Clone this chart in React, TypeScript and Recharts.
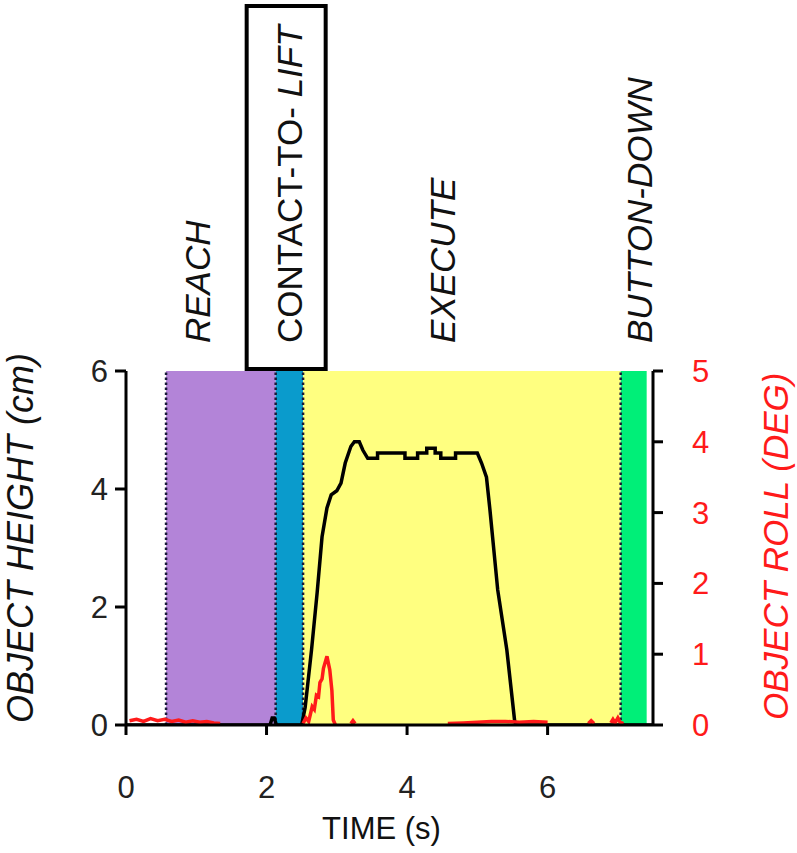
import React from "react";
import {
  ComposedChart,
  Line,
  XAxis,
  YAxis,
  ReferenceArea,
  ReferenceLine,
} from "recharts";

// axis ticks
const timeTicks = [0, 2, 4, 6];
const heightTicks = [0, 2, 4, 6];
const rollTicks = [0, 1, 2, 3, 4, 5];

// task phases (seconds)
const phaseNames = ["REACH", "CONTACT-TO- LIFT", "EXECUTE", "BUTTON-DOWN"];
const phaseStart = [0.57, 2.13, 2.52, 7.04];
const phaseEnd = [2.13, 2.52, 7.04, 7.41];

// object height trace (cm)
const heightTime = [
  0, 2.05, 2.08, 2.11, 2.14, 2.5, 2.55, 2.64, 2.72, 2.79, 2.86, 2.92, 3.0, 3.06, 3.12, 3.2,
  3.25, 3.32, 3.37, 3.44, 3.58, 3.58, 3.97, 3.97, 4.15, 4.15, 4.28, 4.28, 4.4, 4.4, 4.48,
  4.48, 4.69, 4.69, 5.0, 5.06, 5.13, 5.18, 5.29, 5.42, 5.53, 5.55, 7.5,
];
const heightCm = [
  0, 0, 0.12, 0.12, 0, 0, 0.3, 1.27, 2.24, 3.19, 3.68, 3.9, 3.97, 4.1, 4.44, 4.72,
  4.8, 4.8, 4.66, 4.52, 4.52, 4.61, 4.61, 4.52, 4.52, 4.61, 4.61, 4.69, 4.69, 4.61, 4.61,
  4.52, 4.52, 4.61, 4.61, 4.44, 4.2, 3.64, 2.29, 1.27, 0.08, 0, 0,
];

// object roll trace (deg), null = gap
const rollTime = [
  0.05, 0.15, 0.25, 0.35, 0.45, 0.55, 0.65, 0.75, 0.85, 0.95, 1.05, 1.15, 1.25, 1.34, 1.4,
  2.52, 2.56, 2.6, 2.65, 2.68, 2.71, 2.74, 2.76, 2.79, 2.81, 2.86, 2.9, 2.93, 2.95, 2.98, 3.0,
  3.2, 3.23, 3.26, 3.3,
  4.58, 4.8, 5.0, 5.2, 5.4, 5.6, 5.8, 6.0, 6.05,
  6.58, 6.62, 6.66, 6.7,
  6.9, 6.93, 6.96, 7.0, 7.03, 7.08,
];
const rollDeg = [
  0.06, 0.08, 0.05, 0.09, 0.06, 0.08, 0.05, 0.07, 0.04, 0.06, 0.04, 0.05, 0.03, 0.02, null,
  0.02, 0.1, 0.05, 0.26, 0.22, 0.42, 0.4, 0.6, 0.65, 0.8, 0.97, 0.78, 0.49, 0.07, 0, null,
  0.02, 0.06, 0.02, null,
  0.02, 0.03, 0.04, 0.05, 0.05, 0.04, 0.05, 0.04, null,
  0.02, 0.06, 0.02, null,
  0.03, 0.08, 0.03, 0.1, 0.04, 0.02,
];

const heightData = heightTime.map((t, i) => ({ t, h: heightCm[i] }));
const rollData = rollTime.map((t, i) => ({ t, r: rollDeg[i] }));

const W = 797;
const H = 853;
const LEFT_W = 126;
const RIGHT_W = 144;
const BOTTOM_H = 128;
const TOP = 371;
const FONT = '"Liberation Sans", Arial, Helvetica, sans-serif';
const RED = "#ff1a1a";

const phaseFill = ["#b384d8", "#0a9bcc", "#ffff80", "#00ef78"];
const labelShift = [44, 26, 152, 31];

const phaseLabel = (i: number) => (props: any) => {
  const vb = props.viewBox;
  const bx = vb.x + labelShift[i];
  const by = vb.y - 28;
  return (
    <g>
      {i === 1 && (
        <rect
          x={vb.x - 29}
          y={vb.y - 365}
          width={79}
          height={363}
          fill="#fff"
          stroke="#000"
          strokeWidth={4}
        />
      )}
      <text
        x={bx}
        y={by}
        transform={`rotate(-90 ${bx} ${by})`}
        fontSize={35}
        fontFamily={FONT}
        fill="#111"
        fontStyle={i === 1 ? "normal" : "italic"}
      >
        {i === 1 ? (
          <>
            <tspan>CONTACT-TO-</tspan>
            <tspan fontStyle="italic"> LIFT</tspan>
          </>
        ) : (
          phaseNames[i]
        )}
      </text>
    </g>
  );
};

const leftTitle = () => {
  const x = 33;
  const y = 723;
  return (
    <text x={x} y={y} transform={`rotate(-90 ${x} ${y})`} fontSize={36} fontStyle="italic" fontFamily={FONT} fill="#111">
      OBJECT HEIGHT (cm)
    </text>
  );
};

const rightTitle = () => {
  const x = 788;
  const y = 720;
  return (
    <text x={x} y={y} transform={`rotate(-90 ${x} ${y})`} fontSize={35} fontStyle="italic" fontFamily={FONT} fill={RED}>
      OBJECT ROLL (DEG)
    </text>
  );
};

const bottomTitle = () => (
  <text x={(LEFT_W + W - RIGHT_W) / 2 - 8} y={839} textAnchor="middle" fontSize={31} fontFamily={FONT} fill="#111">
    TIME (s)
  </text>
);

export default function App() {
  return (
    <div style={{ position: "absolute", left: 0, top: 0, width: W, height: H, background: "#fff" }}>
      <ComposedChart width={W} height={H} margin={{ top: TOP, right: 0, bottom: 0, left: 0 }}>
        <XAxis
          xAxisId="t"
          dataKey="t"
          type="number"
          domain={[0, 7.5]}
          ticks={timeTicks}
          allowDataOverflow
          height={BOTTOM_H}
          axisLine={{ stroke: "#000", strokeWidth: 3 }}
          tickLine={{ stroke: "#000", strokeWidth: 3 }}
          tickSize={10}
          tickMargin={41}
          tick={{ fontSize: 31, fill: "#222", fontFamily: FONT }}
          label={{ content: bottomTitle }}
        />
        <YAxis
          yAxisId="h"
          domain={[0, 6]}
          ticks={heightTicks}
          allowDataOverflow
          width={LEFT_W}
          axisLine={{ stroke: "#000", strokeWidth: 3 }}
          tickLine={{ stroke: "#000", strokeWidth: 3 }}
          tickSize={11}
          tickMargin={7}
          tick={{ fontSize: 31, fill: "#222", fontFamily: FONT }}
          label={{ content: leftTitle }}
        />
        <YAxis
          yAxisId="r"
          orientation="right"
          domain={[0, 5]}
          ticks={rollTicks}
          allowDataOverflow
          width={RIGHT_W}
          axisLine={{ stroke: "#000", strokeWidth: 3 }}
          tickLine={{ stroke: "#000", strokeWidth: 3 }}
          tickSize={10}
          tickMargin={29}
          tick={{ fontSize: 31, fill: RED, fontFamily: FONT }}
          label={{ content: rightTitle }}
        />
        {phaseNames.map((name, i) => (
          <ReferenceArea
            key={name}
            xAxisId="t"
            yAxisId="h"
            x1={phaseStart[i]}
            x2={phaseEnd[i]}
            y1={0}
            y2={6}
            fill={phaseFill[i]}
            fillOpacity={1}
            stroke="none"
            label={phaseLabel(i)}
          />
        ))}
        {phaseStart.map((x) => (
          <ReferenceLine
            key={`b-${x}`}
            xAxisId="t"
            yAxisId="h"
            x={x}
            stroke="#1a1a3a"
            strokeWidth={2.5}
            strokeDasharray="2.5 2.5"
          />
        ))}
        <Line
          xAxisId="t"
          yAxisId="h"
          data={heightData}
          dataKey="h"
          type="linear"
          stroke="#000"
          strokeWidth={3.5}
          dot={false}
          isAnimationActive={false}
        />
        <Line
          xAxisId="t"
          yAxisId="r"
          data={rollData}
          dataKey="r"
          type="linear"
          stroke={RED}
          strokeWidth={3.5}
          dot={false}
          connectNulls={false}
          isAnimationActive={false}
        />
      </ComposedChart>
    </div>
  );
}
